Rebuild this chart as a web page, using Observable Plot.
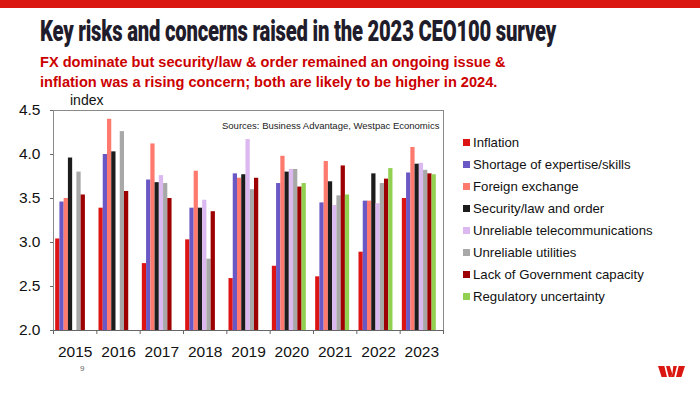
<!DOCTYPE html>
<html>
<head>
<meta charset="utf-8">
<script src="https://cdn.jsdelivr.net/npm/d3@7"></script>
<script src="https://cdn.jsdelivr.net/npm/@observablehq/plot@0.6"></script>
<style>
  html, body { margin: 0; padding: 0; background: #fff; }
  #page { position: relative; width: 700px; height: 393px; overflow: hidden; font-family: "Liberation Sans", Arial, sans-serif; }
  #topbar { position: absolute; left: 0; top: 0; width: 700px; height: 8px; background: #da1710; }
  #title { position: absolute; left: 40px; top: 14px; font-family: Roboto, "Liberation Sans", sans-serif; font-weight: 900; font-size: 29px; color: #1f1c2b; white-space: nowrap; transform-origin: 0 0; letter-spacing: -0.3px; }
  #subtitle { position: absolute; left: 40px; top: 52px; font-weight: 700; font-size: 14.6px; line-height: 20px; color: #cc0000; white-space: nowrap; }
  #chart { position: absolute; left: 0; top: 95px; }
  #index { position: absolute; left: 70px; top: 92px; font-size: 14px; color: #111; }
  #sources { position: absolute; left: 222px; top: 120px; font-size: 9.5px; color: #222; white-space: nowrap; }
  #legend { position: absolute; left: 463px; top: 132px; font-size: 13.2px; color: #111; }
  .li { height: 21.9px; display: flex; align-items: center; white-space: nowrap; }
  .sw { width: 7px; height: 7px; margin-right: 3px; flex: none; }
  #pnum { position: absolute; left: 80px; top: 364px; font-size: 8px; color: #666; }
  #logo { position: absolute; left: 658px; top: 366px; }
</style>
</head>
<body>
<div id="page">
  <div id="topbar"></div>
  <div id="title">Key risks and concerns raised in the 2023 CEO100 survey</div>
  <div id="subtitle">FX dominate but security/law &amp; order remained an ongoing issue &amp;<br>inflation was a rising concern; both are likely to be higher in 2024.</div>
  <div id="chart"></div>
  <div id="index">index</div>
  <div id="sources">Sources: Business Advantage, Westpac Economics</div>
  <div id="legend"></div>
  <div id="pnum">9</div>
  <svg id="logo" width="27" height="11" viewBox="0 0 30 15" preserveAspectRatio="none">
    <polygon points="0,0 7,0 10,15 4,15" fill="#da1710"/>
    <polygon points="9,0 13,0 16,11 14,15 12,15" fill="#da1710"/>
    <polygon points="17,0 21,0 18,15 14,15 16,11" fill="#da1710"/>
    <polygon points="23,0 30,0 26,15 20,15" fill="#da1710"/>
  </svg>
</div>
<script>
const years = [2015, 2016, 2017, 2018, 2019, 2020, 2021, 2022, 2023];
const seriesNames = [
  "Inflation",
  "Shortage of expertise/skills",
  "Foreign exchange",
  "Security/law and order",
  "Unreliable telecommunications",
  "Unreliable utilities",
  "Lack of Government capacity",
  "Regulatory uncertainty"
];
const seriesColors = ["#dd1414", "#6a58c4", "#ff7a6e", "#1c1c1c", "#dcb8f0", "#a8a8a8", "#9c0000", "#92d050"];

const inflation  = [3.04, 3.39, 2.76, 3.03, 2.59, 2.73, 2.61, 2.89, 3.50];
const shortage   = [3.46, 4.00, 3.71, 3.39, 3.78, 3.67, 3.45, 3.47, 3.79];
const fx         = [3.50, 4.40, 4.12, 3.81, 3.73, 3.98, 3.92, 3.47, 4.08];
const security   = [3.96, 4.03, 3.68, 3.39, 3.77, 3.80, 3.69, 3.78, 3.89];
const telecom    = [null, null, 3.76, 3.48, 4.17, 3.83, 3.42, 3.44, 3.90];
const utilities  = [3.80, 4.26, 3.67, 2.81, 3.60, 3.83, 3.53, 3.67, 3.82];
const govCap     = [3.54, 3.58, 3.50, 3.35, 3.73, 3.63, 3.87, 3.72, 3.78];
const regulatory = [null, null, null, null, null, 3.67, 3.54, 3.84, 3.77];

const yTicks = [2.0, 2.5, 3.0, 3.5, 4.0, 4.5];

const allSeries = [inflation, shortage, fx, security, telecom, utilities, govCap, regulatory];

const rows = [];
allSeries.forEach((vals, si) => {
  vals.forEach((v, yi) => {
    if (v != null) rows.push({series: seriesNames[si], si, yi, year: years[yi], value: v});
  });
});

// group layout within each year band (fractions of one band)
const groupLeft = 0.05;
const barW = 0.098;

const chart = Plot.plot({
  width: 446,
  height: 272,
  marginLeft: 53,
  marginRight: 3,
  marginTop: 15,
  marginBottom: 37,
  style: {fontFamily: '"Liberation Sans", Arial, sans-serif', color: "#222", background: "transparent"},
  x: {type: "linear", domain: [0, years.length], axis: null},
  y: {domain: [2, 4.5], axis: null},
  color: {domain: seriesNames, range: seriesColors},
  marks: [
    Plot.rectY(rows, {
      x1: d => d.yi + groupLeft + d.si * barW,
      x2: d => d.yi + groupLeft + (d.si + 1) * barW,
      y1: 2,
      y2: "value",
      fill: "series",
      inset: 0
    }),
    Plot.frame({stroke: "#8a8a8a", strokeWidth: 1}),
    Plot.ruleY([2], {stroke: "#666"}),
    Plot.axisX(d3.range(years.length + 1), {tickSize: 4, tickFormat: () => "", stroke: "#666", label: null}),
    Plot.axisX(d3.range(years.length).map(i => i + 0.5), {
      tickSize: 0, tickPadding: 15, fontSize: 15.5, label: null,
      tickFormat: d => String(years[Math.round(d - 0.5)]), fill: "#111"
    }),
    Plot.axisY(yTicks, {tickSize: 3, tickPadding: 10, fontSize: 15.5, label: null, tickFormat: d3.format(".1f"), stroke: "#666", fill: "#111"})
  ]
});
document.getElementById("chart").appendChild(chart);

const legend = document.getElementById("legend");
seriesNames.forEach((name, i) => {
  const row = document.createElement("div");
  row.className = "li";
  const sw = document.createElement("span");
  sw.className = "sw";
  sw.style.background = seriesColors[i];
  const t = document.createElement("span");
  t.textContent = name;
  row.appendChild(sw); row.appendChild(t);
  legend.appendChild(row);
});

const title = document.getElementById("title");
const w = title.getBoundingClientRect().width;
title.style.transform = `scaleX(${516 / w})`;
</script>
</body>
</html>
